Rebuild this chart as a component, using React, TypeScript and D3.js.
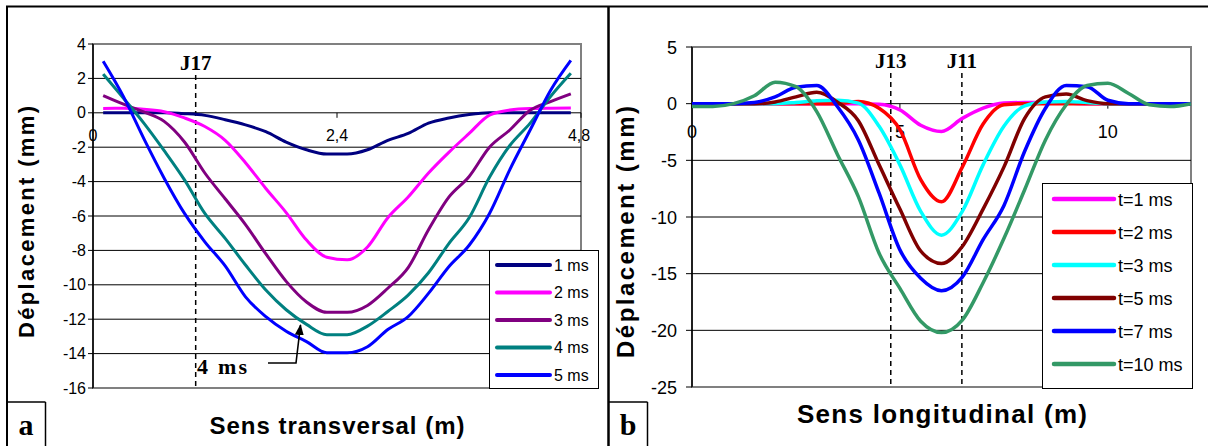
import React from 'react';
import * as d3 from 'd3';

// ---------- Panel a : transverse direction ----------
const leftX = [0.1, 0.3, 0.5, 0.7, 0.9, 1.1, 1.3, 1.5, 1.7, 1.9, 2.1, 2.3, 2.5, 2.7, 2.9, 3.1, 3.3, 3.5, 3.7, 3.9, 4.1, 4.3, 4.5, 4.7];
const leftNames = ['1 ms', '2 ms', '3 ms', '4 ms', '5 ms'];
const left1ms = [0, 0, 0, 0, -0.05, -0.15, -0.4, -0.7, -1.1, -1.7, -2.15, -2.4, -2.4, -2.15, -1.6, -1.2, -0.6, -0.3, -0.1, 0, 0, 0, 0, 0];
const left2ms = [0.25, 0.26, 0.2, 0.06, -0.3, -0.8, -1.6, -2.9, -4.4, -5.8, -7.4, -8.4, -8.55, -7.8, -6.1, -4.9, -3.5, -2.3, -1.2, -0.13, 0.16, 0.25, 0.27, 0.28];
const left3ms = [1.0, 0.5, 0.05, -0.5, -1.7, -3.5, -5.0, -6.5, -8.2, -9.8, -11.0, -11.6, -11.6, -11.2, -10.2, -9.0, -6.8, -4.9, -3.7, -2.0, -1.0, 0.15, 0.65, 1.1];
const left4ms = [2.25, 0.85, -0.6, -2.2, -3.9, -5.85, -7.3, -8.85, -10.3, -11.45, -12.3, -12.9, -12.9, -12.4, -11.55, -10.6, -9.3, -7.6, -6.1, -3.75, -1.9, -0.6, 0.95, 2.3];
const left5ms = [3.0, 0.94, -1.5, -3.8, -5.85, -7.5, -8.9, -10.7, -11.85, -12.7, -13.3, -13.95, -13.95, -13.6, -12.6, -11.85, -10.5, -8.95, -7.7, -5.85, -3.3, -1.0, 1.3, 3.05];
const leftColors = ['#000080', '#FF00FF', '#800080', '#008080', '#0000FF'];
const leftYTicks = [4, 2, 0, -2, -4, -6, -8, -10, -12, -14, -16];
const leftXTicks = [0, 2.4, 4.8];
const leftXTickLabels = ['0', '2,4', '4,8'];
const leftJoint = 1.01;

// ---------- Panel b : longitudinal direction ----------
const rightX = [0, 0.5, 1, 1.5, 2, 2.5, 3, 3.5, 4, 4.5, 5, 5.5, 6, 6.5, 7, 7.5, 8, 8.5, 9, 9.5, 10, 10.5, 11, 11.5, 12];
const rightNames = ['t=1 ms', 't=2 ms', 't=3 ms', 't=5 ms', 't=7 ms', 't=10 ms'];
const rightT1 = [0, 0, 0, 0, 0, 0, 0, 0, 0, -0.05, -0.55, -1.9, -2.45, -1.3, -0.4, 0.05, 0.1, 0.1, 0.05, 0, 0, 0, 0, 0, 0];
const rightT2 = [0, 0, 0, 0, 0, 0, 0, 0, 0.2, -0.4, -2.3, -6.7, -8.65, -5.6, -1.8, -0.1, 0, 0, 0, 0, 0, 0, 0, 0, 0];
const rightT3 = [0, 0, 0, 0, 0, 0.1, 0.25, 0.3, 0.05, -2.0, -5.4, -9.5, -11.6, -9.5, -5.4, -2.0, -0.2, 0.15, 0.2, 0.1, 0, 0, 0, 0, 0];
const rightT5 = [0, 0, 0, 0, 0.15, 0.6, 1.0, 0.13, -1.5, -5.4, -9.3, -13.0, -14.1, -12.6, -9.3, -5.6, -1.3, 0.6, 0.85, 0.27, 0, 0, 0, 0, 0];
const rightT7 = [0, 0, 0, 0.1, 0.6, 1.45, 1.6, -0.27, -3.2, -7.9, -12.9, -15.4, -16.5, -15.3, -12.0, -9.0, -4.2, -0.4, 1.6, 1.5, 0.3, 0, 0, 0, 0];
const rightT10 = [-0.25, -0.25, 0.0, 0.7, 1.9, 1.5, -0.7, -4.5, -8.2, -13.2, -16.3, -19.2, -20.2, -19.1, -15.8, -11.9, -7.6, -3.2, -0.1, 1.6, 1.8, 0.9, -0.1, -0.25, 0.0];
const rightColors = ['#FF00FF', '#FF0000', '#00FFFF', '#800000', '#0000FF', '#339966'];
const rightYTicks = [5, 0, -5, -10, -15, -20, -25];
const rightXTicks = [0, 5, 10];
const rightXTickLabels = ['0', '5', '10'];
const rightJoints = [4.78, 6.49];
const rightJointNames = ['J13', 'J11'];

const SANS = "'Liberation Sans', Arial, Helvetica, sans-serif";
const SERIF = "'Liberation Serif', 'Times New Roman', serif";

export default function App() {
  const leftSeries = [left1ms, left2ms, left3ms, left4ms, left5ms];
  const rightSeries = [rightT1, rightT2, rightT3, rightT5, rightT7, rightT10];

  const xL = d3.scaleLinear().domain([0, 4.8]).range([93, 581]);
  const yL = d3.scaleLinear().domain([-16, 4]).range([388, 44]);
  const xR = d3.scaleLinear().domain([0, 12]).range([692, 1191]);
  const yR = d3.scaleLinear().domain([-25, 5]).range([387, 47]);

  const lineL = d3
    .line<number>()
    .x((_, i) => xL(leftX[i]))
    .y((d) => yL(d))
    .curve(d3.curveMonotoneX);
  const lineR = d3
    .line<number>()
    .x((_, i) => xR(rightX[i]))
    .y((d) => yR(d))
    .curve(d3.curveMonotoneX);

  const [lx0, lx1] = xL.range();
  const [rx0, rx1] = xR.range();

  return (
    <svg
      width={1208}
      height={446}
      style={{ position: 'absolute', left: 0, top: 0, background: '#fff' }}
    >
      <defs>
        <marker id="arr" viewBox="0 0 10 10" refX="9" refY="5" markerWidth="7" markerHeight="7" orient="auto">
          <path d="M0,1 L10,5 L0,9 z" fill="#000" />
        </marker>
      </defs>
      <rect x={0} y={0} width={1208} height={446} fill="#fff" />

      {/* ================= PANEL A ================= */}
      <rect x={lx0} y={yL(4)} width={lx1 - lx0} height={yL(-16) - yL(4)} fill="#fff" stroke="#808080" strokeWidth={2} />
      {leftYTicks.filter((t) => t !== 4 && t !== -16).map((t) => (
        <line key={'lg' + t} x1={lx0} x2={lx1} y1={yL(t)} y2={yL(t)} stroke="#000" strokeWidth={1} />
      ))}
      <line x1={lx0} x2={lx0} y1={yL(4)} y2={yL(-16)} stroke="#000" strokeWidth={1.5} />
      {leftYTicks.map((t) => (
        <g key={'ly' + t}>
          <line x1={lx0 - 5} x2={lx0} y1={yL(t)} y2={yL(t)} stroke="#000" strokeWidth={1} />
          <text x={86} y={yL(t) + 5.5} textAnchor="end" fontFamily={SANS} fontSize={16} fill="#000">
            {t}
          </text>
        </g>
      ))}
      {leftXTicks.map((t, i) => (
        <g key={'lx' + t}>
          <line x1={xL(t)} x2={xL(t)} y1={yL(0)} y2={yL(0) + 5} stroke="#000" strokeWidth={1} />
          <text x={xL(t) - (i === 2 ? 2 : 0)} y={yL(0) + 28} textAnchor="middle" fontFamily={SANS} fontSize={16} fill="#000">
            {leftXTickLabels[i]}
          </text>
        </g>
      ))}
      {/* J17 */}
      <line x1={xL(leftJoint)} x2={xL(leftJoint)} y1={75} y2={yL(-16)} stroke="#000" strokeWidth={1.5} strokeDasharray="5,4" />
      <text x={xL(leftJoint)} y={70} textAnchor="middle" fontFamily={SERIF} fontWeight="bold" fontSize={21} fill="#000">
        J17
      </text>
      {leftSeries.map((s, i) => (
        <path key={'ls' + i} d={lineL(s) || ''} fill="none" stroke={leftColors[i]} strokeWidth={3} strokeLinejoin="round" />
      ))}
      {/* 4 ms annotation */}
      <text x={197} y={374} fontFamily={SERIF} fontWeight="bold" fontSize={22} textLength={50} lengthAdjust="spacing" fill="#000">
        4 ms
      </text>
      <path d="M268,363 L296,363 L300.5,325" fill="none" stroke="#000" strokeWidth={1.6} markerEnd="url(#arr)" />
      {/* legend a */}
      <rect x={489.5} y={250.5} width={109} height={138} fill="#fff" stroke="#000" strokeWidth={1} />
      {leftNames.map((n, i) => {
        const yy = 265 + i * 27.5;
        return (
          <g key={'ll' + i}>
            <line x1={497} x2={550} y1={yy} y2={yy} stroke={leftColors[i]} strokeWidth={4} strokeLinecap="round" />
            <text x={554} y={yy + 5.5} fontFamily={SANS} fontSize={16} fill="#000">
              {n}
            </text>
          </g>
        );
      })}
      {/* axis titles a */}
      <text
        transform={`translate(34,222) rotate(-90)`}
        textAnchor="middle"
        fontFamily={SANS}
        fontWeight="bold"
        fontSize={22}
        textLength={232}
        lengthAdjust="spacing"
        fill="#000"
      >
        Déplacement (mm)
      </text>
      <text x={337} y={434} textAnchor="middle" fontFamily={SANS} fontWeight="bold" fontSize={24} textLength={255} lengthAdjust="spacing" fill="#000">
        Sens transversal (m)
      </text>

      {/* ================= PANEL B ================= */}
      <rect x={rx0} y={yR(5)} width={rx1 - rx0} height={yR(-25) - yR(5)} fill="#fff" stroke="#808080" strokeWidth={2} />
      {rightYTicks.filter((t) => t !== 5 && t !== -25).map((t) => (
        <line key={'rg' + t} x1={rx0} x2={rx1} y1={yR(t)} y2={yR(t)} stroke="#000" strokeWidth={1} />
      ))}
      <line x1={rx0} x2={rx0} y1={yR(5)} y2={yR(-25)} stroke="#000" strokeWidth={1.5} />
      {rightYTicks.map((t) => (
        <g key={'ry' + t}>
          <line x1={rx0 - 6} x2={rx0} y1={yR(t)} y2={yR(t)} stroke="#000" strokeWidth={1} />
          <text x={677} y={yR(t) + 6.5} textAnchor="end" fontFamily={SANS} fontSize={18} fill="#000">
            {t}
          </text>
        </g>
      ))}
      {rightXTicks.map((t, i) => (
        <g key={'rx' + t}>
          <line x1={xR(t)} x2={xR(t)} y1={yR(0)} y2={yR(0) + 5} stroke="#000" strokeWidth={1} />
          <text x={xR(t)} y={138} textAnchor="middle" fontFamily={SANS} fontSize={18} fill="#000">
            {rightXTickLabels[i]}
          </text>
        </g>
      ))}
      {rightJoints.map((j, i) => (
        <g key={'rj' + i}>
          <line x1={xR(j)} x2={xR(j)} y1={73} y2={yR(-25)} stroke="#000" strokeWidth={1.5} strokeDasharray="5,4" />
          <text x={xR(j)} y={68} textAnchor="middle" fontFamily={SERIF} fontWeight="bold" fontSize={21} fill="#000">
            {rightJointNames[i]}
          </text>
        </g>
      ))}
      {rightSeries.map((s, i) => (
        <path key={'rs' + i} d={lineR(s) || ''} fill="none" stroke={rightColors[i]} strokeWidth={3.5} strokeLinejoin="round" />
      ))}
      {/* legend b */}
      <rect x={1042.5} y={183.5} width={150} height={205} fill="#fff" stroke="#000" strokeWidth={1} />
      {rightNames.map((n, i) => {
        const yy = 199 + i * 33;
        return (
          <g key={'rl' + i}>
            <line x1={1054} x2={1114} y1={yy} y2={yy} stroke={rightColors[i]} strokeWidth={4.5} strokeLinecap="round" />
            <text x={1118} y={yy + 6.5} fontFamily={SANS} fontSize={18} fill="#000">
              {n}
            </text>
          </g>
        );
      })}
      {/* axis titles b */}
      <text
        transform={`translate(634,232) rotate(-90)`}
        textAnchor="middle"
        fontFamily={SANS}
        fontWeight="bold"
        fontSize={24}
        textLength={252}
        lengthAdjust="spacing"
        fill="#000"
      >
        Déplacement (mm)
      </text>
      <text x={942} y={423} textAnchor="middle" fontFamily={SANS} fontWeight="bold" fontSize={26} textLength={290} lengthAdjust="spacing" fill="#000">
        Sens longitudinal (m)
      </text>

      {/* ================= FRAME ================= */}
      <line x1={6} x2={1208} y1={6.5} y2={6.5} stroke="#000" strokeWidth={2} />
      <line x1={7} x2={7} y1={6} y2={446} stroke="#000" strokeWidth={2} />
      <line x1={608.5} x2={608.5} y1={6} y2={446} stroke="#000" strokeWidth={2.5} />
      <line x1={7} x2={45.5} y1={402} y2={402} stroke="#000" strokeWidth={1.5} />
      <line x1={45.5} x2={45.5} y1={402} y2={446} stroke="#000" strokeWidth={1.5} />
      <line x1={608} x2={647.5} y1={402} y2={402} stroke="#000" strokeWidth={1.5} />
      <line x1={647.5} x2={647.5} y1={402} y2={446} stroke="#000" strokeWidth={1.5} />
      <text x={26} y={435} textAnchor="middle" fontFamily={SERIF} fontWeight="bold" fontSize={30} fill="#000">
        a
      </text>
      <text x={628} y={435} textAnchor="middle" fontFamily={SERIF} fontWeight="bold" fontSize={30} fill="#000">
        b
      </text>
    </svg>
  );
}
